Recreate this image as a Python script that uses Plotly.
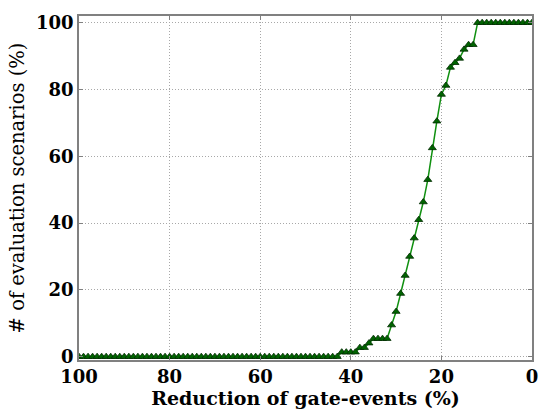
import plotly.graph_objects as go

reduction = list(range(100, -1, -1))
scen_tail = {
    42: 1.35, 41: 1.35, 40: 1.35, 39: 1.35,
    38: 2.7, 37: 2.7, 36: 4.05,
    35: 5.4, 34: 5.4, 33: 5.4, 32: 5.4,
    31: 9.46, 30: 13.5, 29: 18.9, 28: 24.3, 27: 30.0, 26: 35.5,
    25: 41.0, 24: 46.3, 23: 53.0, 22: 62.5, 21: 70.5, 20: 78.5,
    19: 81.2, 18: 86.6, 17: 88.0, 16: 89.3, 15: 92.0, 14: 93.4, 13: 93.4,
}
scenarios = [0.0 if r >= 43 else (100.0 if r <= 12 else scen_tail[r]) for r in reduction]

x_ticks = [100, 80, 60, 40, 20, 0]
y_ticks = [0, 20, 40, 60, 80, 100]

serif = "DejaVu Serif"

fig = go.Figure()
fig.add_trace(go.Scatter(
    x=reduction, y=scenarios, mode="lines+markers",
    line=dict(color="#109010", width=1.5),
    marker=dict(symbol="triangle-up", size=7, color="#006400",
                line=dict(color="#002a00", width=0.8)),
    showlegend=False,
))

axis_common = dict(
    showline=True, linecolor="#808080", linewidth=1.5, mirror="ticks",
    ticks="inside", ticklen=4, tickcolor="#808080",
    showgrid=True, gridcolor="#a8a8a8", griddash="1px,2px", gridwidth=1,
    zeroline=False, ticklabeloverflow="allow",
    tickfont=dict(family=serif, size=18, color="black", weight="bold"),
)

fig.update_layout(
    width=542, height=414,
    margin=dict(l=79, r=4, t=16, b=54),
    paper_bgcolor="white", plot_bgcolor="white",
    xaxis=dict(range=[100, 0], tickvals=x_ticks,
               title=dict(text="Reduction of gate-events (%)",
                          font=dict(family=serif, size=19, color="black", weight="bold"),
                          standoff=2),
               **axis_common),
    yaxis=dict(range=[-1, 102], tickvals=y_ticks,
               title=dict(text="# of evaluation scenarios (%)",
                          font=dict(family=serif, size=19.5, color="black"),
                          standoff=6),
               **axis_common),
)

fig.write_html("out.html")
